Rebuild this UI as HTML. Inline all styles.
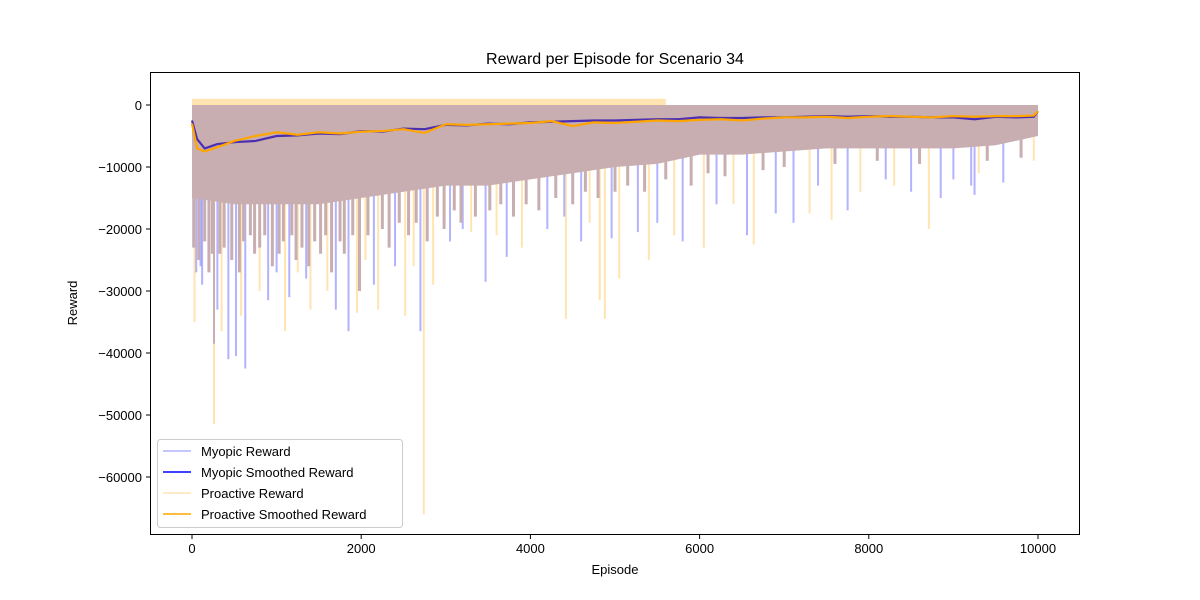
<!DOCTYPE html>
<html><head><meta charset="utf-8">
<style>
body{margin:0;background:#fff;}
svg{display:block;font-family:"Liberation Sans","DejaVu Sans",sans-serif;}
</style></head>
<body>
<svg id="chart" width="1200" height="600" viewBox="0 0 1200 600">
<rect width="1200" height="600" fill="#fff"/>
<text x="615" y="64" text-anchor="middle" font-size="16">Reward per Episode for Scenario 34</text>
<g id="plot"></g>
<rect x="150.5" y="72.5" width="929" height="462" fill="none" stroke="#000" stroke-width="1"/>
<g id="xt"></g>
<g id="yt"></g>
<text x="615" y="574" text-anchor="middle" font-size="13">Episode</text>
<text transform="translate(77,303) rotate(-90)" text-anchor="middle" font-size="13">Reward</text>
<g>
<rect x="157.5" y="439.5" width="245" height="88" rx="3" fill="#fff" fill-opacity="0.8" stroke="#ccc"/>
<line x1="163" y1="451" x2="191" y2="451" stroke="#0000ff" stroke-opacity="0.3" stroke-width="1.5"/>
<text x="201" y="456" font-size="13">Myopic Reward</text>
<line x1="163" y1="472" x2="191" y2="472" stroke="#0000ff" stroke-width="1.5"/>
<text x="201" y="477" font-size="13">Myopic Smoothed Reward</text>
<line x1="163" y1="493" x2="191" y2="493" stroke="#ffa500" stroke-opacity="0.3" stroke-width="1.5"/>
<text x="201" y="498" font-size="13">Proactive Reward</text>
<line x1="163" y1="514" x2="191" y2="514" stroke="#ffa500" stroke-width="1.5"/>
<text x="201" y="519" font-size="13">Proactive Smoothed Reward</text>
</g>
</svg>
<script>
const xTicks=[0,2000,4000,6000,8000,10000];
const yTicks=[0,-10000,-20000,-30000,-40000,-50000,-60000];
const bandEpisodes=[0,500,1000,1500,2000,2500,3000,3500,4000,4500,5000,5500,6000,6500,7000,7500,8000,8500,9000,9500,10000];
const bandBottom=[-15000,-16000,-16000,-16000,-15000,-14000,-13000,-13000,-12000,-11000,-10000,-9500,-8000,-8000,-7500,-7000,-7000,-7000,-7000,-6500,-5000];
const proactiveTopEpisodes=[0,5600];
const proactiveTop=[1000,1000];
const myopicSpikeEp=[50,100,120,260,300,430,520,630,900,1150,1350,1700,1850,2150,2700,3050,3470,3720,4200,4600,4960,5270,5500,5800,6560,6900,7110,7750,8500,8850,9210,9250,9590,1000,2400,3200,4400,6200,7400,8200,9000];
const myopicSpikeVal=[-27000,-26000,-29000,-38500,-33000,-41000,-40500,-42500,-31500,-31000,-28000,-33000,-36500,-29000,-36500,-22000,-28500,-24500,-20000,-22000,-21500,-20500,-19000,-22000,-21000,-17500,-19000,-17000,-14000,-15000,-13000,-14500,-12500,-27000,-26000,-20000,-18000,-16000,-13000,-12000,-12000];
const proactiveSpikeEp=[30,260,350,580,800,1100,1400,1600,1950,2200,2520,2620,2740,2850,3300,3900,4420,4820,4880,5050,5400,5700,6050,6640,7300,7560,8710,9950,1250,2050,3600,4700,6400,7900,8300,9300];
const proactiveSpikeVal=[-35000,-51500,-36500,-34000,-30000,-36500,-33000,-30000,-33500,-33000,-34000,-26000,-66000,-29000,-20500,-23000,-34500,-31500,-34500,-28000,-25000,-21000,-23000,-22500,-17500,-18500,-20000,-9000,-27000,-25000,-21000,-19000,-16000,-14000,-13000,-11000];
const overlapSpikeEp=[20,80,150,200,240,330,380,470,560,610,690,740,800,860,950,1030,1080,1180,1230,1300,1380,1450,1520,1580,1650,1750,1800,1900,1980,2080,2250,2330,2450,2560,2650,2780,2900,2980,3100,3180,3350,3520,3650,3800,3950,4100,4300,4500,4650,4800,5000,5150,5350,5600,5900,6100,6300,6750,7000,7600,8100,8600,9400,9800];
const overlapSpikeVal=[-23000,-25000,-22000,-27000,-24000,-24000,-23000,-25000,-27000,-22000,-21000,-24000,-23000,-21000,-26000,-24000,-22000,-21000,-25000,-23000,-26000,-22000,-24000,-21000,-27000,-22000,-24000,-21000,-30000,-21000,-20000,-23000,-19000,-21000,-19000,-22000,-18000,-20000,-17000,-19000,-18000,-17000,-16000,-18000,-16000,-17000,-15000,-16000,-14000,-15000,-14000,-13000,-14000,-12000,-13000,-11000,-11500,-10500,-10000,-9500,-9000,-9500,-9000,-8500];
const smoothEp=[0,60,150,300,500,750,1000,1250,1500,1750,2000,2250,2500,2750,3000,3250,3500,3750,4000,4250,4500,4750,5000,5250,5500,5750,6000,6250,6500,6750,7000,7250,7500,7750,8000,8250,8500,8750,9000,9250,9500,9750,9950,10000];
const myopicSmooth=[-2500,-5500,-7000,-6300,-6000,-5800,-5000,-4900,-4600,-4700,-4200,-4300,-3800,-3900,-3200,-3300,-3000,-3100,-2800,-2700,-2600,-2500,-2500,-2400,-2300,-2300,-2000,-2100,-2100,-2000,-2000,-1900,-1800,-1900,-1800,-1900,-1900,-2000,-2000,-2300,-1900,-2000,-1900,-1000];
const proactiveSmooth=[-3000,-7000,-7500,-6800,-5800,-5000,-4400,-4800,-4400,-4600,-4300,-4200,-3900,-4500,-3100,-3200,-3100,-3000,-2900,-2600,-3400,-2800,-2900,-2700,-2500,-2600,-2400,-2300,-2500,-2200,-2000,-2000,-1900,-2100,-1900,-1800,-1900,-2000,-1800,-1900,-1800,-1800,-1700,-1000];
const X=e=>192+e*(1038-192)/10000;
function yv(v){return 105+(-v)*(372/60000);}
const NS="http://www.w3.org/2000/svg";
const plot=document.getElementById('plot');
function mk(t,a,p){const e=document.createElementNS(NS,t);for(const k in a)e.setAttribute(k,a[k]);(p||plot).appendChild(e);return e;}
myopicSpikeEp.forEach((ep,i)=>{const l=mk('line',{x1:X(ep),x2:X(ep),y1:yv(0),y2:yv(myopicSpikeVal[i]),stroke:'#0000ff','stroke-opacity':0.3,'stroke-width':2});

});
proactiveSpikeEp.forEach((ep,i)=>{const l=mk('line',{x1:X(ep),x2:X(ep),y1:yv(0),y2:yv(proactiveSpikeVal[i]),stroke:'#ffa500','stroke-opacity':0.3,'stroke-width':2});

});
overlapSpikeEp.forEach((ep,i)=>{const l=mk('line',{x1:X(ep),x2:X(ep),y1:yv(0),y2:yv(overlapSpikeVal[i]),stroke:'#c8aeb0','stroke-width':3});

});
const strip=mk('rect',{x:X(proactiveTopEpisodes[0]),y:yv(proactiveTop[0]),width:X(proactiveTopEpisodes[1])-X(proactiveTopEpisodes[0]),height:yv(0)-yv(proactiveTop[0]),fill:'#ffa500','fill-opacity':0.3});


let pts=bandEpisodes.map((e,i)=>X(e)+','+yv(0)).join(' ');
let bot=bandEpisodes.map((e,i)=>X(e)+','+yv(bandBottom[i])).reverse().join(' ');
const band=mk('polygon',{points:pts+' '+bot,fill:'#c8aeb0'});


function line(vals,col,name){const d=smoothEp.map((e,i)=>(i?'L':'M')+X(e)+','+yv(vals[i])).join('');
const p=mk('path',{d:d,fill:'none',stroke:col,'stroke-width':2.2,'stroke-linejoin':'round'});

}
line(myopicSmooth,'#4b2fb0','myopic-smoothed-line');
line(proactiveSmooth,'#ffa500','proactive-smoothed-line');
const xt=document.getElementById('xt'),yt=document.getElementById('yt');
xTicks.forEach(t=>{mk('line',{x1:X(t),x2:X(t),y1:535,y2:539,stroke:'#000'},xt);
const tx=mk('text',{x:X(t),y:553,'text-anchor':'middle','font-size':13},xt);tx.textContent=t;

});
yTicks.forEach(t=>{mk('line',{x1:146,x2:150,y1:yv(t),y2:yv(t),stroke:'#000'},yt);
const tx=mk('text',{x:142,y:yv(t)+5,'text-anchor':'end','font-size':13},yt);tx.textContent=t===0?'0':'\u2212'+(-t);

});
</script>
</body></html>
